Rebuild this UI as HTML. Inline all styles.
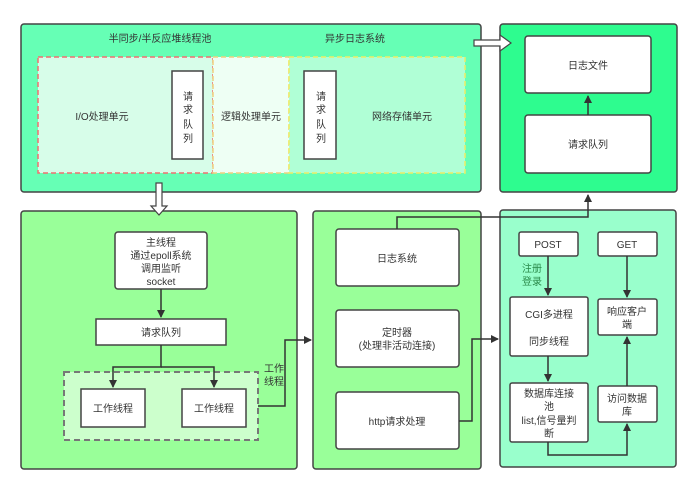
<!DOCTYPE html>
<html><head><meta charset="utf-8"><style>
html,body{margin:0;padding:0;background:#fff;width:697px;height:491px;overflow:hidden}
text{font-family:"Liberation Sans","Noto Sans CJK SC",sans-serif;font-size:10px;fill:#333;text-anchor:middle}
</style></head><body>
<svg width="697" height="491" viewBox="0 0 697 491" xmlns="http://www.w3.org/2000/svg">
<defs><marker id="a" markerWidth="8" markerHeight="8" refX="7" refY="4" orient="auto" markerUnits="userSpaceOnUse"><path d="M0,0 L8,4 L0,8z" fill="#333"/></marker></defs>
<g stroke="#444" stroke-width="1.5">
<!-- top-left -->
<rect x="21" y="24" width="460" height="168" rx="3" fill="#66ffb5"/>
<rect x="38" y="57" width="175" height="116" fill="#d7fde9" stroke="#ef7070" stroke-dasharray="5,3"/>
<rect x="213" y="57" width="76" height="116" fill="#eefff4" stroke="#f0d080" stroke-dasharray="5,3"/>
<rect x="289" y="57" width="176" height="116" fill="#b0ffd6" stroke="#eeee66" stroke-dasharray="5,3"/>
<rect x="172" y="71" width="31" height="88" fill="#fff"/>
<rect x="304" y="71" width="32" height="88" fill="#fff"/>
<!-- top-right -->
<rect x="500" y="24" width="177" height="168" rx="3" fill="#2efc8f"/>
<rect x="525" y="36" width="126" height="57" rx="3" fill="#fff"/>
<rect x="525" y="115" width="126" height="58" rx="3" fill="#fff"/>
<!-- bottom-left -->
<rect x="21" y="211" width="276" height="258" rx="3" fill="#99ff99"/>
<rect x="115" y="232" width="92" height="57" rx="3" fill="#fff"/>
<rect x="96" y="319" width="130" height="26" fill="#fff"/>
<rect x="64" y="372" width="194" height="68" fill="#ccffcc" stroke="#777" stroke-dasharray="6,4" stroke-width="2"/>
<rect x="81" y="389" width="64" height="38" fill="#fff"/>
<rect x="182" y="389" width="64" height="38" fill="#fff"/>
<!-- middle -->
<rect x="313" y="211" width="168" height="258" rx="3" fill="#99ff99"/>
<rect x="336" y="229" width="123" height="57" rx="3" fill="#fff"/>
<rect x="336" y="310" width="123" height="57" rx="3" fill="#fff"/>
<rect x="336" y="392" width="123" height="57" rx="3" fill="#fff"/>
<!-- bottom-right -->
<rect x="500" y="210" width="176" height="257" rx="3" fill="#99ffcc"/>
<rect x="519" y="232" width="59" height="24" rx="2" fill="#fff"/>
<rect x="598" y="232" width="59" height="24" rx="2" fill="#fff"/>
<rect x="510" y="297" width="78" height="59" rx="2" fill="#fff"/>
<rect x="598" y="299" width="59" height="36" rx="2" fill="#fff"/>
<rect x="510" y="383" width="78" height="59" rx="2" fill="#fff"/>
<rect x="598" y="386" width="59" height="36" rx="2" fill="#fff"/>
</g>
<!-- connectors -->
<g stroke="#333" stroke-width="1.5" fill="none">
<line x1="588" y1="115" x2="588" y2="96" marker-end="url(#a)"/>
<line x1="161" y1="289" x2="161" y2="317" marker-end="url(#a)"/>
<polyline points="161,345 161,367 113,367 113,387" marker-end="url(#a)"/>
<polyline points="161,367 214,367 214,387" marker-end="url(#a)"/>
<polyline points="258,406 285,406 285,340 311,340" marker-end="url(#a)"/>
<polyline points="397,229 397,217 588,217 588,195" marker-end="url(#a)"/>
<polyline points="459,421 472,421 472,339 498,339" marker-end="url(#a)"/>
<line x1="548" y1="256" x2="548" y2="295" marker-end="url(#a)"/>
<line x1="627" y1="256" x2="627" y2="297" marker-end="url(#a)"/>
<line x1="548" y1="356" x2="548" y2="381" marker-end="url(#a)"/>
<polyline points="548,442 548,455 627,455 627,424" marker-end="url(#a)"/>
<line x1="627" y1="386" x2="627" y2="337" marker-end="url(#a)"/>
</g>
<!-- hollow arrows -->
<path d="M156,183 L162,183 L162,206 L167,206 L159,215 L151,206 L156,206 Z" fill="#fff" stroke="#444" stroke-width="1.2"/>
<path d="M474,40 L500,40 L500,35 L511,43 L500,51 L500,46 L474,46 Z" fill="#fff" stroke="#444" stroke-width="1.2"/>
<!-- text -->
<text x="160" y="42">半同步/半反应堆线程池</text>
<text x="355" y="42">异步日志系统</text>
<text x="102" y="120">I/O处理单元</text>
<text x="251" y="120">逻辑处理单元</text>
<text x="402" y="120">网络存储单元</text>
<text x="188" y="100">请</text><text x="188" y="113">求</text><text x="188" y="128">队</text><text x="188" y="142">列</text>
<text x="321" y="100">请</text><text x="321" y="113">求</text><text x="321" y="128">队</text><text x="321" y="142">列</text>
<text x="588" y="69">日志文件</text>
<text x="588" y="148">请求队列</text>
<text x="161" y="246">主线程</text>
<text x="161" y="259">通过epoll系统</text>
<text x="161" y="272">调用监听</text>
<text x="161" y="285">socket</text>
<text x="161" y="336">请求队列</text>
<text x="113" y="412">工作线程</text>
<text x="214" y="412">工作线程</text>
<text x="274" y="372">工作</text>
<text x="274" y="385">线程</text>
<text x="397" y="262">日志系统</text>
<text x="397" y="336">定时器</text>
<text x="397" y="349">(处理非活动连接)</text>
<text x="397" y="425">http请求处理</text>
<text x="548" y="248">POST</text>
<text x="627" y="248">GET</text>
<text x="532" y="272" style="fill:#2a8a4a">注册</text>
<text x="532" y="285" style="fill:#2a8a4a">登录</text>
<text x="549" y="318">CGI多进程</text>
<text x="549" y="345">同步线程</text>
<text x="627" y="315">响应客户</text>
<text x="627" y="328">端</text>
<text x="549" y="397">数据库连接</text>
<text x="549" y="410">池</text>
<text x="549" y="424">list,信号量判</text>
<text x="549" y="437">断</text>
<text x="627" y="402">访问数据</text>
<text x="627" y="415">库</text>
</svg>
</body></html>
